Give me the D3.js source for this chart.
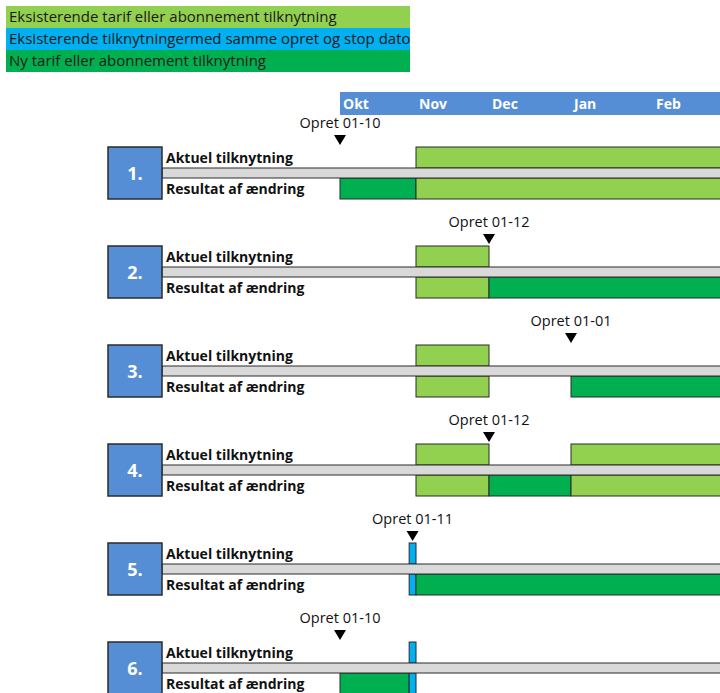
<!DOCTYPE html>
<html lang="da">
<head>
<meta charset="UTF-8">
<title>Tilknytninger</title>
<style>
    html, body { margin: 0; background: #fff; }
    svg { display: block; font-family: "Open Sans", sans-serif; }
</style>
</head>
<body>
<div class="chart"></div>
<script src="https://d3js.org/d3.v7.min.js"></script>
<script>
    // legend
    var legendLabels = [
        "Eksisterende tarif eller abonnement tilknytning",
        "Eksisterende tilknytningermed samme opret og stop dato",
        "Ny tarif eller abonnement tilknytning"
    ];
    var legendKeys = ["old", "same", "new"];

    // months on the time axis (index 0 = Okt)
    var months = ["Okt", "Nov", "Dec", "Jan", "Feb"];

    // scenarios: marker position (month index) + label, bars per row [start, end, type]
    var scenarioNames = ["1.", "2.", "3.", "4.", "5.", "6."];
    var markerPos = [0, 2, 3, 2, 0.955, 0];
    var markerText = ["Opret 01-10", "Opret 01-12", "Opret 01-01", "Opret 01-12", "Opret 01-11", "Opret 01-10"];
    var aktuelBars = [
        [[1, 5, "old"]],
        [[1, 2, "old"]],
        [[1, 2, "old"]],
        [[1, 2, "old"], [3, 5, "old"]],
        [[0.91, 1, "same"]],
        [[0.91, 1, "same"]]
    ];
    var resultatBars = [
        [[0, 1, "new"], [1, 5, "old"]],
        [[1, 2, "old"], [2, 5, "new"]],
        [[1, 2, "old"], [3, 5, "new"]],
        [[1, 2, "old"], [2, 3, "new"], [3, 5, "old"]],
        [[0.91, 1, "same"], [1, 5, "new"]],
        [[0, 0.91, "new"], [0.91, 1, "same"]]
    ];
    var rowLabels = ["Aktuel tilknytning", "Resultat af ændring"];

    var width = 720, height = 693;
    var color = d3.scaleOrdinal().domain(legendKeys).range(["#92D050", "#00B0F0", "#00B050"]);
    // month columns are not equally wide in the original sheet
    var x = d3.scaleLinear().domain([0, 1, 2, 3, 4, 5]).range([340, 416, 489, 571, 653, 735]);
    var y = d3.scaleLinear().domain([0, 1]).range([147, 246]);

    var svg = d3.select(".chart").append("svg")
        .attr("width", width)
        .attr("height", height);

    // legend block
    var leg = svg.append("g");
    leg.selectAll("rect").data(legendKeys).join("rect")
        .attr("x", 6).attr("y", (d, i) => 6 + i * 22)
        .attr("width", 404).attr("height", 22)
        .attr("fill", d => color(d));
    leg.selectAll("text").data(legendLabels).join("text")
        .attr("x", 9).attr("y", (d, i) => 22 + i * 22)
        .attr("font-size", 15)
        .attr("fill", "#1a1a1a")
        .text(d => d);

    // month header
    svg.append("rect")
        .attr("x", x(0)).attr("y", 92)
        .attr("width", width - x(0)).attr("height", 23)
        .attr("fill", "#558ED5");
    svg.selectAll(".month").data(months).join("text")
        .attr("class", "month")
        .attr("x", (d, i) => x(i) + 3).attr("y", 109)
        .attr("font-size", 14).attr("font-weight", "bold")
        .attr("fill", "#fff")
        .text(d => d);

    var rowH = 21, gap = 10;

    scenarioNames.forEach(function (name, i) {
        var top = y(i);
        var g = svg.append("g");

        var drawBars = function (bars, y0) {
            g.selectAll(null).data(bars).join("rect")
                .attr("x", d => x(d[0])).attr("y", y0)
                .attr("width", d => x(d[1]) - x(d[0])).attr("height", rowH)
                .attr("fill", d => color(d[2]))
                .attr("stroke", "#2b2b2b").attr("stroke-width", 1);
        };
        drawBars(aktuelBars[i], top);
        drawBars(resultatBars[i], top + rowH + gap);

        // grey divider
        g.append("rect")
            .attr("x", 162).attr("y", top + rowH)
            .attr("width", width - 162 + 5).attr("height", gap)
            .attr("fill", "#D9D9D9").attr("stroke", "#2b2b2b").attr("stroke-width", 1);

        // number box
        g.append("rect")
            .attr("x", 108).attr("y", top)
            .attr("width", 54).attr("height", rowH * 2 + gap)
            .attr("fill", "#558ED5").attr("stroke", "#2b2b2b").attr("stroke-width", 1.5);
        g.append("text")
            .attr("x", 135).attr("y", top + 33)
            .attr("text-anchor", "middle")
            .attr("font-size", 18).attr("font-weight", "bold").attr("fill", "#fff")
            .text(name);

        g.selectAll(".rowlab").data(rowLabels).join("text")
            .attr("class", "rowlab")
            .attr("x", 166).attr("y", (d, j) => top + 16 + j * (rowH + gap))
            .attr("font-size", 14).attr("font-weight", "bold").attr("fill", "#111")
            .text(d => d);

        // marker
        var mx = x(markerPos[i]), tip = top - 2;
        g.append("path")
            .attr("d", `M${mx - 6},${tip - 10}L${mx + 6},${tip - 10}L${mx},${tip}Z`)
            .attr("fill", "#000");
        g.append("text")
            .attr("x", mx).attr("y", tip - 17)
            .attr("text-anchor", "middle")
            .attr("font-size", 14.5).attr("fill", "#111")
            .text(markerText[i]);
    });
</script>
</body>
</html>
